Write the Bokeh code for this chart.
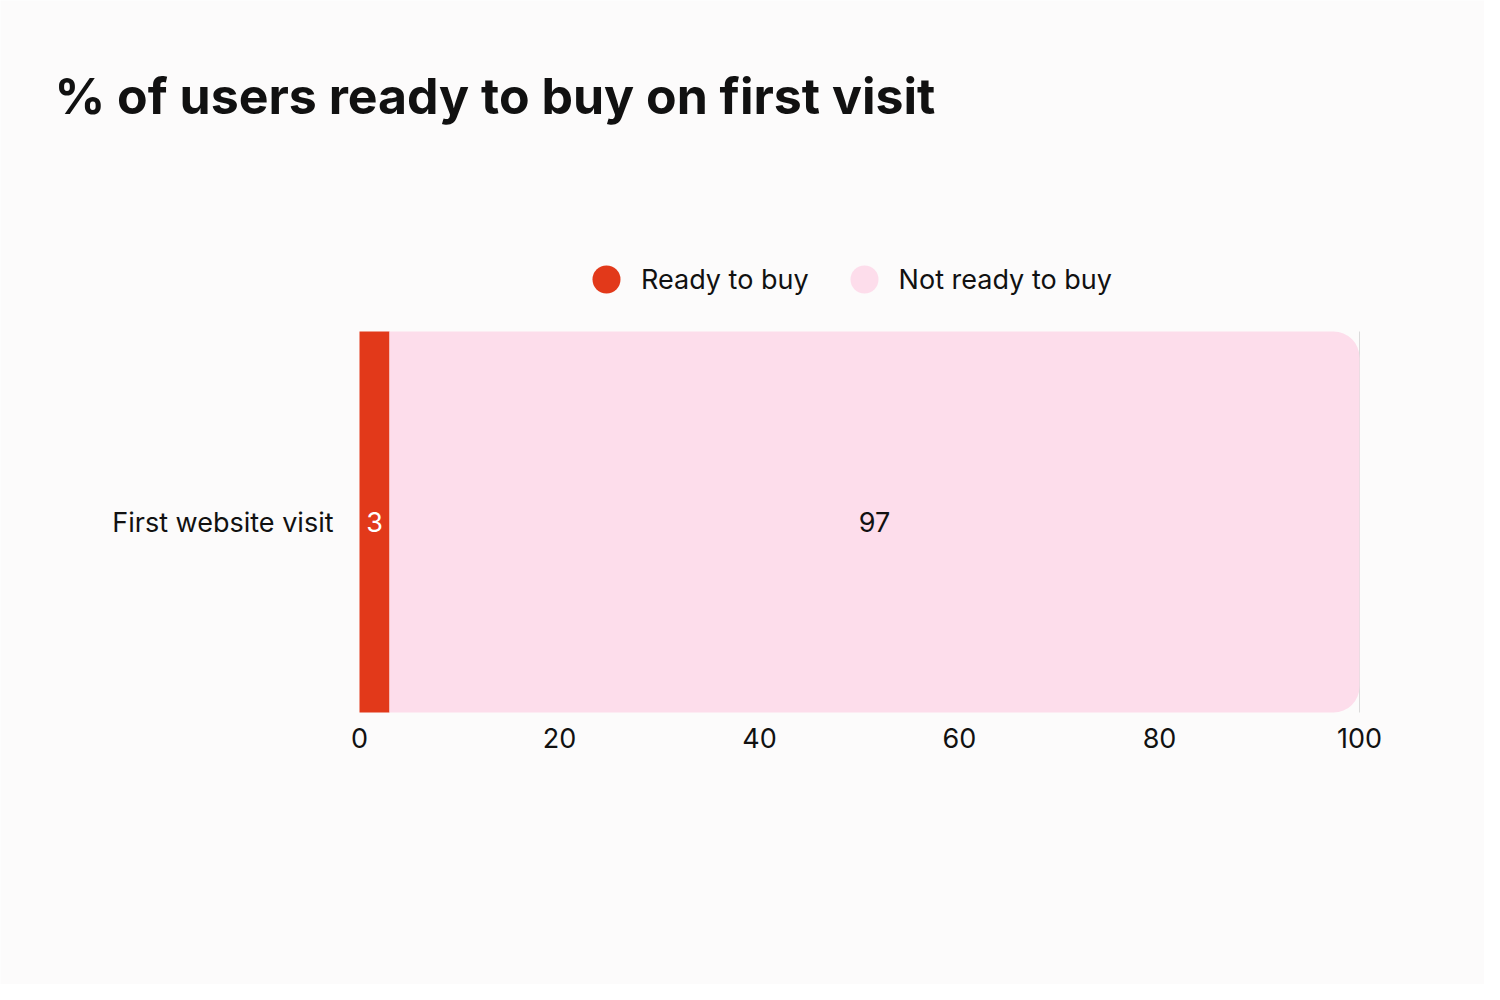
from bokeh.plotting import figure
from bokeh.models import ColumnDataSource, LabelSet, Label, Legend, LegendItem, FixedTicker, Range1d
from bokeh.embed import file_html
from bokeh.resources import INLINE
from bokeh.core.properties import value

title_text = "% of users ready to buy on first visit"
categories = ["First website visit"]
series_names = ["Ready to buy", "Not ready to buy"]
ready = [3]
not_ready = [97]
x_ticks = [0, 20, 40, 60, 80, 100]

RED = "#E2391A"
PINK = "#FDDDEB"
BG = "#FCFBFB"
TXT = "#111111"
FONT = "Inter"

# ---- layout (pixels on the canvas) ----
W, H = 1484, 984
FRAME_L, FRAME_R = 359, 1359      # where 0 and 100 fall
BAR_TOP, BAR_BOT = 331, 712       # bar band
PX_PER_UNIT = (FRAME_R - FRAME_L) / 100.0
BAND = BAR_BOT - BAR_TOP

x_start = -FRAME_L / PX_PER_UNIT
x_end = (W - FRAME_L) / PX_PER_UNIT
y_end = 0.5 + BAR_TOP / BAND
y_start = -0.5 - (H - BAR_BOT) / BAND


def sx_to_x(sx):
    return (sx - FRAME_L) / PX_PER_UNIT


def sy_to_y(sy):
    return 0.5 + (BAR_TOP - sy) / BAND


p = figure(width=W, height=H, x_range=Range1d(x_start, x_end), y_range=Range1d(y_start, y_end),
           output_backend="svg", toolbar_location=None,
           background_fill_color=BG, border_fill_color=BG, min_border=0)
p.outline_line_color = None

ypos = list(range(len(categories)))
src = ColumnDataSource(dict(
    y=ypos,
    ready=ready,
    not_ready=not_ready,
    end=[r + n for r, n in zip(ready, not_ready)],
    zero=[0] * len(categories),
    ready_mid=[r / 2 for r in ready],
    nr_mid=[r + n / 2 for r, n in zip(ready, not_ready)],
    ready_lbl=[str(r) for r in ready],
    nr_lbl=[str(n) for n in not_ready],
))

p.hbar(y="y", left="zero", right="ready", height=1.0, source=src,
       fill_color=RED, line_color=None)
p.hbar(y="y", left="ready", right="end", height=1.0, source=src,
       fill_color=PINK, line_color=None, border_radius=(0, 26, 26, 0))

p.add_layout(LabelSet(x="ready_mid", y="y", text="ready_lbl", source=src,
                      text_align="center", text_baseline="middle",
                      text_color="white", text_font=value(FONT), text_font_size="27px"))
p.add_layout(LabelSet(x="nr_mid", y="y", text="nr_lbl", source=src,
                      text_align="center", text_baseline="middle",
                      text_color=TXT, text_font=value(FONT), text_font_size="27px"))

# axes drawn at fixed locations inside the frame
p.xaxis.fixed_location = -0.5
p.xaxis.ticker = FixedTicker(ticks=x_ticks)
p.xaxis.axis_line_color = None
p.xaxis.major_tick_line_color = None
p.xaxis.minor_tick_line_color = None
p.xaxis.major_label_text_font = FONT
p.xaxis.major_label_text_font_size = "27px"
p.xaxis.major_label_text_color = TXT
p.xaxis.major_label_standoff = 9

p.yaxis.fixed_location = 0
p.yaxis.ticker = FixedTicker(ticks=ypos)
p.yaxis.major_label_overrides = {i: c for i, c in zip(ypos, categories)}
p.yaxis.axis_line_color = None
p.yaxis.major_tick_line_color = None
p.yaxis.minor_tick_line_color = None
p.yaxis.major_label_text_font = FONT
p.yaxis.major_label_text_font_size = "27px"
p.yaxis.major_label_text_color = TXT
p.yaxis.major_label_standoff = 20

# faint grid line at 100, limited to the bar band
p.ygrid.grid_line_color = None
xg = p.xgrid[0]
xg.ticker = FixedTicker(ticks=[100])
xg.level = "underlay"
if "cross_bounds" in xg.properties():
    xg.cross_bounds = (-0.5, 0.5)
    xg.grid_line_color = "#DADADA"
else:
    xg.grid_line_color = None

# title
p.add_layout(Label(x=sx_to_x(54), y=sy_to_y(95), text=title_text,
                   text_font=FONT, text_font_size="50px", text_font_style="bold",
                   text_color=TXT, text_baseline="alphabetic", text_align="left"))

# legend with circle markers (dummy renderers at NaN)
nan = float("nan")
d1 = p.scatter(x=[nan], y=[nan], marker="circle", size=28, fill_color=RED, line_color=None)
d2 = p.scatter(x=[nan], y=[nan], marker="circle", size=28, fill_color=PINK, line_color=None)
legend = Legend(items=[LegendItem(label=series_names[0], renderers=[d1]),
                       LegendItem(label=series_names[1], renderers=[d2])],
                orientation="horizontal", location=(571, H - 279 - 35),
                label_text_font=FONT, label_text_font_size="27px", label_text_color=TXT,
                label_text_baseline="middle",
                glyph_width=70, glyph_height=70, spacing=20, label_standoff=0,
                background_fill_alpha=0, border_line_color=None, padding=0, margin=0)
p.add_layout(legend, "center")

open("out.html", "w").write(file_html(p, INLINE))
